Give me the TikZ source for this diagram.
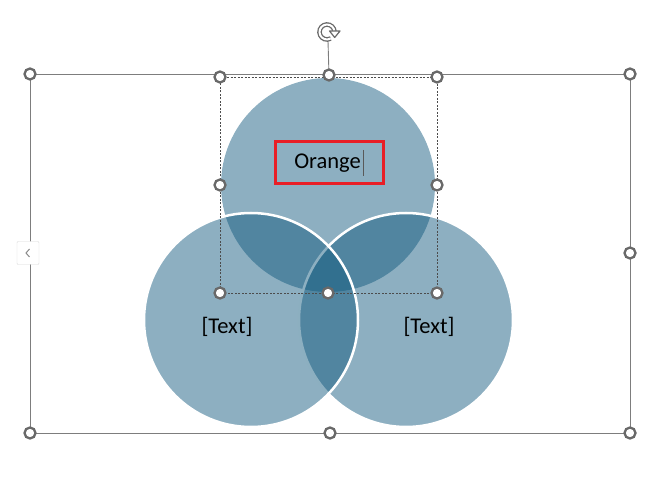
\documentclass[tikz,border=0pt]{standalone}
\usepackage{fontspec}
\setmainfont{Carlito}
\usepackage{xcolor}
\usepackage{tikz}
\usetikzlibrary{positioning}
\definecolor{venn}{RGB}{16,88,125}
\definecolor{handlegray}{RGB}{105,105,105}
\definecolor{framegray}{RGB}{125,125,125}
\definecolor{redbox}{RGB}{232,30,38}

\begin{document}
\begin{tikzpicture}[
    x=1pt, y=-1pt,
    handle/.style={circle, draw=handlegray, line width=2.3pt, fill=white, minimum size=11pt, inner sep=0pt},
    vennset/.style={circle, fill=venn, fill opacity=0.48, minimum size=214pt, inner sep=0pt},
    rim/.style={draw=white, draw opacity=1, line width=2.5pt},
    settext/.style={font=\fontsize{22.5}{26}\selectfont, text=black, inner sep=0pt},
    frame/.style={draw=framegray, line width=0.9pt},
    selbox/.style={draw=black!70, dash pattern=on 2pt off 1.5pt, line width=0.7pt}
]
\useasboundingbox (0,0) rectangle (659,494);

\coordinate (o-tl) at (30,74);
\coordinate (o-t) at (329,74);
\coordinate (o-tr) at (630,74);
\coordinate (o-r) at (630,253);
\coordinate (o-bl) at (30,433);
\coordinate (o-b) at (330,433);
\coordinate (o-br) at (630,433);
\draw[frame] (o-tl) -- (o-tr) -- (o-br) -- (o-bl) -- cycle;

\node[vennset] (top) at (328,185) {};
\node[vennset, rim] (right) at (406,320) {};
\node[vennset, rim] (left) at (251,320) {};

\coordinate (i-tl) at (220,77);
\coordinate (i-t) at (329,75);
\coordinate (i-tr) at (437,77);
\coordinate (i-l) at (220,185);
\coordinate (i-r) at (437,185);
\coordinate (i-bl) at (220,293);
\coordinate (i-b) at (328,293);
\coordinate (i-br) at (437,293);
\draw[selbox] (i-tl) -- (i-tr) -- (i-br) -- (i-bl) -- cycle;

\coordinate (rot) at (327,32);
\coordinate (rot-foot) at (328,41);
\draw[frame] (rot-foot) -- (i-t);
\draw[handlegray, line width=1.3pt, double=white, double distance=2pt]
    (rot) ++(-3:7.5) arc[start angle=-3, end angle=-300, radius=7.5];
\draw[handlegray, line width=1.2pt, fill=white, line join=round]
    (329.5,31) -- (340,31) -- (334.7,37.5) -- cycle;

\node[draw=black!15, fill=white, rounded corners=1pt, minimum width=22pt, minimum height=23pt, inner sep=0pt] (collapse) at (28,253) {};
\draw[black!45, line width=1pt] (29.5,249) -- (26,253) -- (29.5,257);

\node[handle] (h-o-tl) at (o-tl) {};
\node[handle] (h-o-tr) at (o-tr) {};
\node[handle] (h-o-r) at (o-r) {};
\node[handle] (h-o-bl) at (o-bl) {};
\node[handle] (h-o-b) at (o-b) {};
\node[handle] (h-o-br) at (o-br) {};
\node[handle] (h-i-tl) at (i-tl) {};
\node[handle] (h-i-t) at (i-t) {};
\node[handle] (h-i-tr) at (i-tr) {};
\node[handle] (h-i-l) at (i-l) {};
\node[handle] (h-i-r) at (i-r) {};
\node[handle] (h-i-bl) at (i-bl) {};
\node[handle] (h-i-b) at (i-b) {};
\node[handle] (h-i-br) at (i-br) {};

\node[draw=redbox, line width=2.5pt, minimum width=108pt, minimum height=42pt, inner sep=0pt] (orangebox) at (329.5,162.5) {};
\node[settext] (orange) at (327.5,163) {Orange};
\draw[black!65, line width=0.8pt] (363,150) -- (363,176);

\node[settext] (text-left) at (227,327) {[Text]};
\node[settext] (text-right) at (429,327) {[Text]};
\end{tikzpicture}
\end{document}
